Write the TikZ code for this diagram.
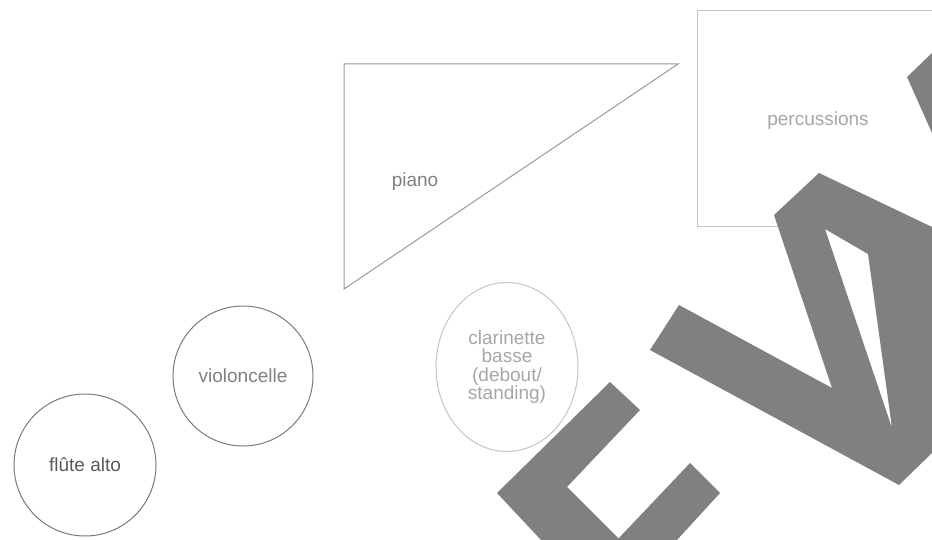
\documentclass[tikz,border=0pt]{standalone}
\usepackage{fontspec}
\setmainfont{Liberation Sans}
\usepackage{tikz}
\usetikzlibrary{shapes.geometric}
\definecolor{wm}{HTML}{808080}
\definecolor{darkline}{HTML}{7A7A7A}
\definecolor{midline}{HTML}{9A9A9A}
\definecolor{paleline}{HTML}{C4C4C4}

\begin{document}
\begin{tikzpicture}[x=1pt,y=-1pt,
  instr/.style={draw=darkline,line width=1pt,inner sep=0pt,text=gray,
    font=\fontsize{19}{18.5}\selectfont},
  pale/.style={instr,draw=paleline,text=black!35}]
\useasboundingbox (0,0) rectangle (932,540);
\clip (0,0) rectangle (932,540);
\node[instr,circle,minimum size=142pt,text=black!65](flute) at (85,465){flûte alto};
\node[instr,circle,minimum size=140pt](cello) at (243,376){violoncelle};
\node[pale,ellipse,minimum width=142pt,minimum height=169pt,align=center](clar) at (507,367)
  {clarinette\\basse\\(debout/\\standing)};
\node[pale,rectangle,minimum width=242pt,minimum height=216pt](perc) at (818,119){};
\node[text=black!35,font=\fontsize{19}{18.5}\selectfont](perclabel) at (818,121){percussions};
\coordinate (pa) at (344,64);
\coordinate (pb) at (678,64);
\coordinate (pc) at (344,289);
\draw[midline,line width=1pt](pa)--(pb)--(pc)--cycle;
\node[text=gray,font=\fontsize{19}{18.5}\selectfont](piano) at (415,182){piano};
% watermark
\fill[wm,even odd rule](774,215)--(819,173)--(932,227)--(932,453)--(899,485)--(650,350)
  --(679,305)--(832,388)--cycle (825,229)--(868,254)--(892,428)--cycle;
\fill[wm](907,77)--(932,53)--(932,133)--cycle;
\fill[wm](610,382)--(640,410)--(567,487)--(620,540)--(541,540)--(497,493)--cycle;
\fill[wm](690,463)--(720,493)--(677,540)--(617,540)--cycle;
\end{tikzpicture}
\end{document}
